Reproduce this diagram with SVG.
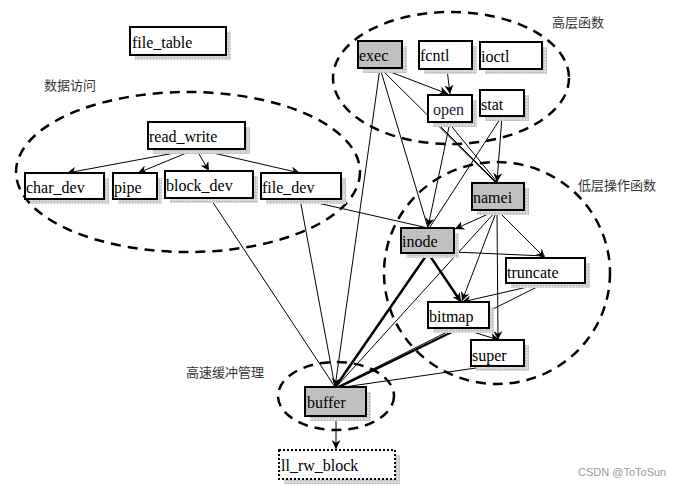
<svg xmlns="http://www.w3.org/2000/svg" width="686" height="486" viewBox="0 0 686 486">
<defs>
<pattern id="grid" width="3" height="3" patternUnits="userSpaceOnUse"><rect width="3" height="3" fill="#ddd"/><path d="M0 0H3M0 0V3" stroke="#999" stroke-width="0.6"/></pattern>
<marker id="ar" viewBox="0 0 10 10" refX="10" refY="5" markerWidth="9" markerHeight="9" markerUnits="userSpaceOnUse" orient="auto"><path d="M0 0L10 5L0 10L3 5Z" fill="#000"/></marker>
<style>
.b{fill:#fff;stroke:#000;stroke-width:2}
.g{fill:#c0c0c0;stroke:#000;stroke-width:2}
.s{fill:url(#grid)}
.t{font-family:"Liberation Serif",serif;font-size:16px;fill:#000}
.cn{font-family:"Noto Sans CJK SC",sans-serif;font-size:13px;fill:#333}
.e{fill:none;stroke:#000;stroke-width:2.5;stroke-dasharray:10 7}
.c line{stroke:#000;stroke-width:1}
.c .k{stroke-width:2.5}
</style>
</defs>
<rect width="686" height="486" fill="#fff"/>
<g id="groups">
<ellipse class="e" cx="188" cy="172" rx="172" ry="80"/>
<ellipse class="e" cx="451" cy="78" rx="118" ry="66"/>
<ellipse class="e" cx="497" cy="273" rx="113" ry="111"/>
<ellipse class="e" cx="336" cy="396" rx="58" ry="34"/>
<text class="cn" x="44" y="90">数据访问</text>
<text class="cn" x="552" y="27">高层函数</text>
<text class="cn" x="578" y="190">低层操作函数</text>
<text class="cn" x="186" y="377">高速缓冲管理</text>
</g>
<g class="c" id="connectors">
<line x1="196" y1="149" x2="67" y2="173" marker-end="url(#ar)"/>
<line x1="196" y1="149" x2="138" y2="173" marker-end="url(#ar)"/>
<line x1="196" y1="149" x2="209" y2="171" marker-end="url(#ar)"/>
<line x1="196" y1="149" x2="300" y2="173" marker-end="url(#ar)"/>
<line x1="210" y1="198" x2="335" y2="387"/>
<line x1="300" y1="199" x2="335" y2="387"/>
<line x1="300" y1="199" x2="428" y2="228"/>
<line x1="380" y1="68" x2="335" y2="387" marker-end="url(#ar)"/>
<line x1="380" y1="68" x2="428" y2="228"/>
<line x1="380" y1="68" x2="448" y2="94" marker-end="url(#ar)"/>
<line x1="380" y1="68" x2="495" y2="182"/>
<line x1="447" y1="69" x2="450" y2="94" marker-end="url(#ar)"/>
<line x1="450" y1="122" x2="428" y2="227" marker-end="url(#ar)"/>
<line x1="436" y1="122" x2="496" y2="182"/>
<line x1="448" y1="122" x2="497" y2="182"/>
<line x1="502" y1="116" x2="497" y2="182" marker-end="url(#ar)"/>
<line x1="502" y1="116" x2="430" y2="227"/>
<line x1="497" y1="210" x2="455" y2="229" marker-end="url(#ar)"/>
<line x1="497" y1="210" x2="545" y2="258" marker-end="url(#ar)"/>
<line x1="497" y1="210" x2="462" y2="301" marker-end="url(#ar)"/>
<line x1="497" y1="210" x2="498" y2="340" marker-end="url(#ar)"/>
<line x1="497" y1="210" x2="337" y2="386"/>
<line x1="454" y1="252" x2="545" y2="256"/>
<line class="k" x1="428" y1="253" x2="336" y2="386"/>
<line class="k" x1="428" y1="253" x2="461" y2="302" marker-end="url(#ar)"/>
<line x1="545" y1="283" x2="462" y2="302" marker-end="url(#ar)"/>
<line x1="545" y1="283" x2="337" y2="387"/>
<line x1="460" y1="328" x2="499" y2="340" marker-end="url(#ar)"/>
<line class="k" x1="460" y1="328" x2="337" y2="388"/>
<line x1="490" y1="366" x2="337" y2="388"/>
<line x1="336" y1="416" x2="336" y2="449" marker-end="url(#ar)"/>
</g>
<g id="file_table"><rect class="s" x="135" y="32" width="96" height="28"/><rect class="b" x="130" y="27" width="96" height="28"/><text class="t" x="132" y="48">file_table</text></g>
<g id="read_write"><rect class="s" x="153" y="127" width="97" height="27"/><rect class="b" x="148" y="122" width="97" height="27"/><text class="t" x="149" y="142">read_write</text></g>
<g id="char_dev"><rect class="s" x="30" y="178" width="79" height="26"/><rect class="b" x="25" y="173" width="79" height="26"/><text class="t" x="26" y="193">char_dev</text></g>
<g id="pipe"><rect class="s" x="118" y="178" width="44" height="26"/><rect class="b" x="113" y="173" width="44" height="26"/><text class="t" x="114" y="193">pipe</text></g>
<g id="block_dev"><rect class="s" x="170" y="176" width="88" height="27"/><rect class="b" x="165" y="171" width="88" height="27"/><text class="t" x="166" y="191">block_dev</text></g>
<g id="file_dev"><rect class="s" x="266" y="178" width="80" height="26"/><rect class="b" x="261" y="173" width="80" height="26"/><text class="t" x="262" y="193">file_dev</text></g>
<g id="exec"><rect class="s" x="363" y="46" width="44" height="27"/><rect class="g" x="358" y="41" width="44" height="27"/><text class="t" x="359" y="61">exec</text></g>
<g id="fcntl"><rect class="s" x="424" y="46" width="53" height="28"/><rect class="b" x="419" y="41" width="53" height="28"/><text class="t" x="420" y="61">fcntl</text></g>
<g id="ioctl"><rect class="s" x="485" y="47" width="62" height="27"/><rect class="b" x="480" y="42" width="62" height="27"/><text class="t" x="481" y="62">ioctl</text></g>
<g id="open"><rect class="s" x="433" y="100" width="44" height="27"/><rect class="b" x="428" y="95" width="44" height="27"/><text class="t" x="433" y="115" style="fill:#223">open</text></g>
<g id="stat"><rect class="s" x="485" y="95" width="44" height="26"/><rect class="b" x="480" y="90" width="44" height="26"/><text class="t" x="481" y="110">stat</text></g>
<g id="namei"><rect class="s" x="477" y="188" width="52" height="27"/><rect class="g" x="472" y="183" width="52" height="27"/><text class="t" x="473" y="203">namei</text></g>
<g id="inode"><rect class="s" x="406" y="233" width="53" height="25"/><rect class="g" x="401" y="228" width="53" height="25"/><text class="t" x="402" y="247">inode</text></g>
<g id="truncate"><rect class="s" x="511" y="263" width="79" height="25"/><rect class="b" x="506" y="258" width="79" height="25"/><text class="t" x="507" y="278">truncate</text></g>
<g id="bitmap"><rect class="s" x="433" y="307" width="61" height="26"/><rect class="b" x="428" y="302" width="61" height="26"/><text class="t" x="429" y="322">bitmap</text></g>
<g id="super"><rect class="s" x="476" y="345" width="53" height="26"/><rect class="b" x="471" y="340" width="53" height="26"/><text class="t" x="472" y="361">super</text></g>
<g id="buffer"><rect class="s" x="310" y="392" width="61" height="29"/><rect class="g" x="305" y="387" width="61" height="29"/><text class="t" x="307" y="408">buffer</text></g>
<g id="ll_rw_block"><rect class="s" x="284" y="455" width="116" height="29"/><rect x="279" y="450" width="116" height="29" fill="#fff" stroke="#000" stroke-width="2" stroke-dasharray="2 2"/><text class="t" x="281" y="471">ll_rw_block</text></g>
<text x="578" y="476" font-family="Liberation Sans,sans-serif" font-size="11" fill="#999">CSDN @ToToSun</text>
</svg>
